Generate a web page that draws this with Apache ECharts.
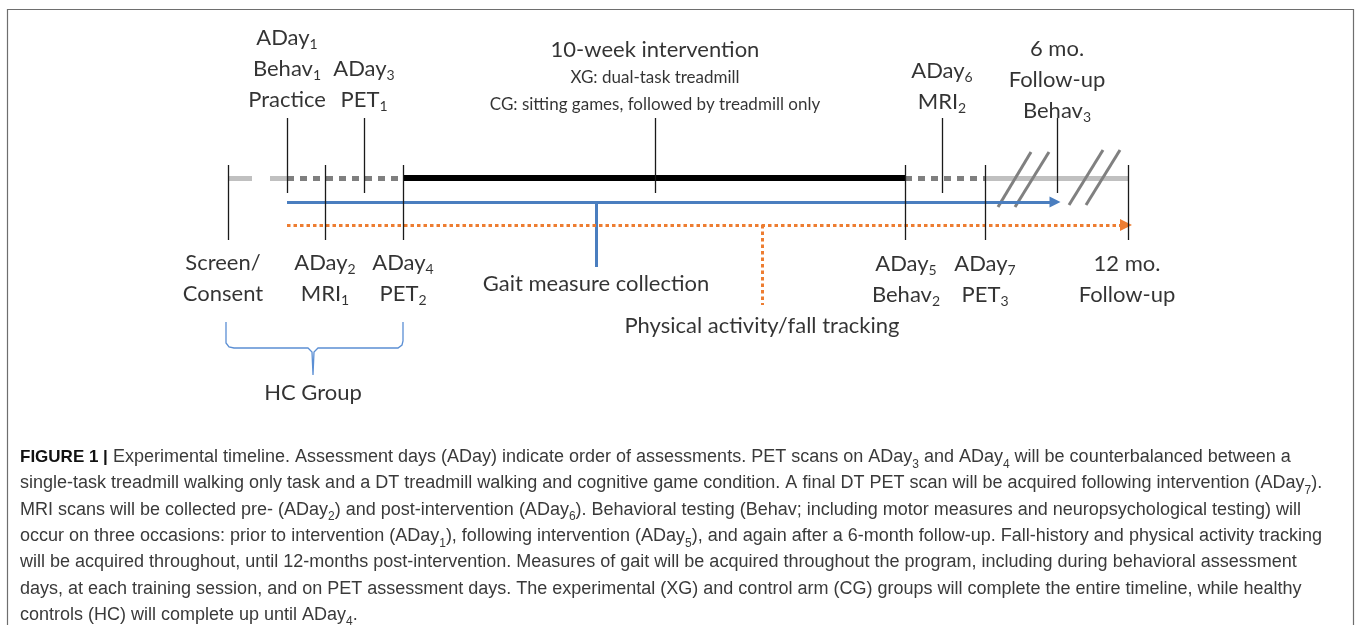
<!DOCTYPE html>
<html>
<head>
<meta charset="utf-8">
<script src="https://cdn.jsdelivr.net/npm/echarts@6/dist/echarts.min.js"></script>
<style>html,body{margin:0;padding:0;background:#fff}#main{width:1358px;height:625px}</style>
</head>
<body>
<div id="main"></div>
<script>
// timeline geometry (frame units = pixels of the 1358x625 figure)
var lineY = 178, gaitY = 202, activityY = 225;
var upTicks = [287, 364, 655, 942, 1057];          // ticks above the bar
var downTicks = [228, 325, 403, 905, 985, 1128];   // ticks below the bar
var lightGraySegs = [[228, 252], [270, 287], [985, 1128]];
var darkDashSegs = [[287, 403], [905, 985]];
var interventionSeg = [403, 905];
var gaitSeg = [287, 1055];
var activitySeg = [287, 1126];
var gaitStem = [596, 267];
var activityStem = [762, 305];
var breakMarks = [[998, 207, 1031, 152], [1015, 207, 1049, 152], [1069, 205, 1103, 150], [1086, 205, 1120, 150]];
var brace = [[226, 322], [226, 343], [229, 347], [234, 348], [308, 348], [312, 352], [313, 375],
             [314, 352], [318, 348], [398, 348], [402, 345], [403, 341], [403, 322]];

// labels: [x, first baseline, lines]
var topLabels = [
    [287, 45, ['ADay{s|1}', 'Behav{s|1}', 'Practice']],
    [364, 76, ['ADay{s|3}', 'PET{s|1}']],
    [942, 78, ['ADay{s|6}', 'MRI{s|2}']],
    [1057, 56, ['6 mo.', 'Follow-up', 'Behav{s|3}']]
];
var bottomLabels = [
    [223, 270, ['Screen/', 'Consent']],
    [325, 270, ['ADay{s|2}', 'MRI{s|1}']],
    [403, 270, ['ADay{s|4}', 'PET{s|2}']],
    [906, 271, ['ADay{s|5}', 'Behav{s|2}']],
    [985, 271, ['ADay{s|7}', 'PET{s|3}']],
    [1127, 271, ['12 mo.', 'Follow-up']]
];
var singleLabels = [
    [655, 57, '10-week intervention', 22],
    [655, 83, 'XG: dual-task treadmill', 17],
    [655, 110, 'CG: sitting games, followed by treadmill only', 17],
    [596, 291, 'Gait measure collection', 22],
    [762, 333, 'Physical activity/fall tracking', 22],
    [313, 400, 'HC Group', 22]
];
var caption = [
    '{b|FIGURE 1 |} Experimental timeline. Assessment days (ADay) indicate order of assessments. PET scans on ADay{s|3} and ADay{s|4} will be counterbalanced between a',
    'single-task treadmill walking only task and a DT treadmill walking and cognitive game condition. A final DT PET scan will be acquired following intervention (ADay{s|7}).',
    'MRI scans will be collected pre- (ADay{s|2}) and post-intervention (ADay{s|6}). Behavioral testing (Behav; including motor measures and neuropsychological testing) will',
    'occur on three occasions: prior to intervention (ADay{s|1}), following intervention (ADay{s|5}), and again after a 6-month follow-up. Fall-history and physical activity tracking',
    'will be acquired throughout, until 12-months post-intervention. Measures of gait will be acquired throughout the program, including during behavioral assessment',
    'days, at each training session, and on PET assessment days. The experimental (XG) and control arm (CG) groups will complete the entire timeline, while healthy',
    'controls (HC) will complete up until ADay{s|4}.'
];

function seg(pairs, y) {
    return pairs.map(function (p) { return {coords: [[p[0], y], [p[1], y]]}; });
}
function vert(xs, y1, y2) {
    return xs.map(function (x) { return {coords: [[x, y1], [x, y2]]}; });
}
function linesSeries(data, style, extra) {
    var s = {type: 'lines', coordinateSystem: 'cartesian2d', silent: true, data: data,
        lineStyle: Object.assign({opacity: 1, cap: 'butt'}, style)};
    return Object.assign(s, extra || {});
}

var textData = [];
function addGroup(g) {
    g[2].forEach(function (t, i) {
        textData.push({value: [g[0], g[1] + i * 31 - 7], text: t, label: {fontSize: 22}});
    });
}
topLabels.forEach(addGroup);
bottomLabels.forEach(addGroup);
singleLabels.forEach(function (l) {
    textData.push({value: [l[0], l[1] - l[3] * 0.3], text: l[2], label: {fontSize: l[3]}});
});

var myChart = echarts.init(document.getElementById('main'));
var option = {
    backgroundColor: '#fff',
    animation: false,
    grid: {left: 0, right: 0, top: 0, bottom: 0},
    xAxis: {type: 'value', min: 0, max: 1358, show: false},
    yAxis: {type: 'value', min: 0, max: 625, inverse: true, show: false},
    series: [
        linesSeries(seg(lightGraySegs, lineY), {color: '#c0c0c0', width: 5}),
        linesSeries(seg(darkDashSegs, lineY), {color: '#7f7f7f', width: 5, type: [7, 6]}),
        linesSeries(seg([interventionSeg], lineY), {color: '#000', width: 6}),
        linesSeries(breakMarks.map(function (b) { return {coords: [[b[0], b[1]], [b[2], b[3]]]}; }),
            {color: '#808080', width: 3}),
        linesSeries(seg([gaitSeg], gaitY), {color: '#4a7ebf', width: 3},
            {symbol: ['none', 'triangle'], symbolSize: [11, 11]}),
        linesSeries([{coords: [[gaitStem[0], gaitY], gaitStem]}], {color: '#4a7ebf', width: 3}),
        linesSeries(seg([activitySeg], activityY), {color: '#ed7d31', width: 3, type: [3.5, 3]},
            {symbol: ['none', 'triangle'], symbolSize: [12, 12]}),
        linesSeries([{coords: [[activityStem[0], activityY], activityStem]}],
            {color: '#ed7d31', width: 3, type: [3.5, 3]}),
        linesSeries(vert(upTicks, 118, 193).concat(vert(downTicks, 165, 240)), {color: '#1a1a1a', width: 1.3}),
        linesSeries([{coords: brace}], {color: '#5b8fd4', width: 1.3}, {polyline: true}),
        {
            type: 'scatter',
            silent: true,
            symbolSize: 0,
            data: textData,
            label: {
                show: true,
                position: 'inside',
                color: '#000',
                fontFamily: 'Lato',
                lineHeight: 26,
                formatter: function (p) { return p.data.text; },
                rich: {
                    s: {fontSize: 14, fontFamily: 'Lato', color: '#000', verticalAlign: 'bottom', lineHeight: 12}
                }
            }
        }
    ],
    graphic: [
        {type: 'rect', shape: {x: 7.5, y: 9.5, width: 1346, height: 640},
            style: {fill: 'none', stroke: '#6e6e6e', lineWidth: 1.2}, silent: true},
        {
            type: 'text', left: 20, top: 444, silent: true,
            style: {
                text: caption.join('\n'),
                fill: '#3a3a3a',
                fontFamily: 'Liberation Sans Narrow, Liberation Sans, sans-serif',
                fontSize: 18,
                lineHeight: 26.3,
                rich: {
                    b: {fontFamily: 'Liberation Sans, sans-serif', fontWeight: 'bold', fontSize: 17,
                        fill: '#111', lineHeight: 26.3},
                    s: {fontFamily: 'Liberation Sans Narrow, Liberation Sans, sans-serif', fontSize: 12,
                        fill: '#3a3a3a', verticalAlign: 'bottom', lineHeight: 23}
                }
            }
        }
    ]
};
myChart.setOption(option);
</script>
</body>
</html>
